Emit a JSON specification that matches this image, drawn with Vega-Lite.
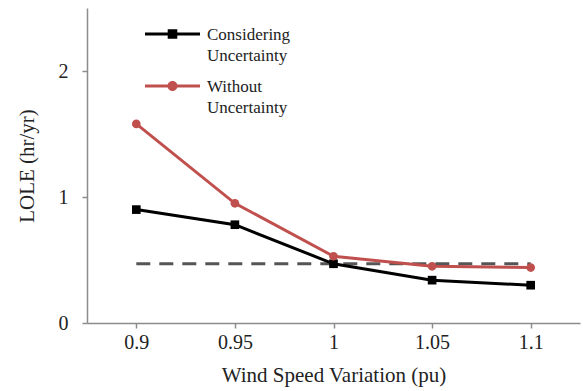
{
  "$schema": "https://vega.github.io/schema/vega-lite/v6.json",
  "width": 493,
  "height": 315,
  "autosize": "none",
  "padding": {"left": 87, "top": 8, "right": 3, "bottom": 68},
  "background": "white",
  "config": {
    "font": "Liberation Serif",
    "view": {"stroke": null},
    "axis": {
      "grid": false,
      "domainColor": "#8c8c8c",
      "domainWidth": 1.5,
      "tickColor": "#8c8c8c",
      "tickWidth": 1.5,
      "tickSize": 5,
      "labelFont": "Liberation Serif",
      "labelFontSize": 20,
      "labelColor": "#222222",
      "titleFont": "Liberation Serif",
      "titleFontSize": 21,
      "titleFontWeight": "normal",
      "titleColor": "#222222"
    }
  },
  "layer": [
    {
      "data": {"values": [{"x": "0.9", "x2": "1.1", "y": 0.47}]},
      "mark": {"type": "rule", "strokeWidth": 3, "strokeDash": [14, 9]},
      "encoding": {
        "x": {"field": "x", "type": "ordinal"},
        "x2": {"field": "x2"},
        "y": {"field": "y", "type": "quantitative"},
        "color": {"value": "#555555"}
      }
    },
    {
      "data": {"values": [
        {"x": "0.9", "series": "Considering Uncertainty", "lole": 0.90},
        {"x": "0.95", "series": "Considering Uncertainty", "lole": 0.78},
        {"x": "1", "series": "Considering Uncertainty", "lole": 0.47},
        {"x": "1.05", "series": "Considering Uncertainty", "lole": 0.34},
        {"x": "1.1", "series": "Considering Uncertainty", "lole": 0.30},
        {"x": "0.9", "series": "Without Uncertainty", "lole": 1.58},
        {"x": "0.95", "series": "Without Uncertainty", "lole": 0.95},
        {"x": "1", "series": "Without Uncertainty", "lole": 0.53},
        {"x": "1.05", "series": "Without Uncertainty", "lole": 0.45},
        {"x": "1.1", "series": "Without Uncertainty", "lole": 0.44}
      ]},
      "layer": [
        {
          "mark": {"type": "line", "strokeWidth": 3},
          "encoding": {
            "x": {"field": "x", "type": "ordinal"},
            "y": {"field": "lole", "type": "quantitative"},
            "color": {"field": "series", "type": "nominal"}
          }
        },
        {
          "transform": [{"filter": "datum.series == 'Considering Uncertainty'"}],
          "mark": {"type": "square", "opacity": 1, "size": 75},
          "encoding": {
            "x": {"field": "x", "type": "ordinal"},
            "y": {"field": "lole", "type": "quantitative"},
            "color": {"field": "series", "type": "nominal"}
          }
        },
        {
          "transform": [{"filter": "datum.series == 'Without Uncertainty'"}],
          "mark": {"type": "circle", "opacity": 1, "size": 75},
          "encoding": {
            "x": {"field": "x", "type": "ordinal"},
            "y": {"field": "lole", "type": "quantitative"},
            "color": {"field": "series", "type": "nominal"}
          }
        }
      ]
    }
  ],
  "encoding": {
    "x": {
      "field": "x",
      "type": "ordinal",
      "scale": {"type": "point", "domain": ["0.9", "0.95", "1", "1.05", "1.1"], "padding": 0.5},
      "axis": {"title": "Wind Speed Variation (pu)", "labelAngle": 0, "labelPadding": 4, "titlePadding": 12}
    },
    "y": {
      "field": "lole",
      "type": "quantitative",
      "scale": {"domain": [0, 2.5], "nice": false},
      "axis": {"title": "LOLE (hr/yr)", "values": [0, 1, 2], "labelPadding": 14, "titlePadding": 21}
    },
    "color": {
      "field": "series",
      "type": "nominal",
      "scale": {"domain": ["Considering Uncertainty", "Without Uncertainty"], "range": ["#000000", "#c0504d"]},
      "legend": {
        "title": null,
        "orient": "none",
        "legendX": 65.5,
        "legendY": 6,
        "padding": 0,
        "symbolSize": 1600,
        "symbolStrokeWidth": 0,
        "symbolOpacity": 1,
        "labelFont": "Liberation Serif",
        "labelFontSize": 17,
        "labelColor": "#222222",
        "labelOffset": 14.5,
        "labelBaseline": "alphabetic",
        "labelExpr": "split(datum.label, ' ')",
        "rowPadding": 2,
        "encode": {
          "symbols": {"update": {"shape": {"signal": "datum.value == 'Considering Uncertainty' ? 'M-1.375,-0.075H1.375V0.075H-1.375Z M-0.24,-0.24H0.24V0.24H-0.24Z' : 'M-1.375,-0.075H1.375V0.075H-1.375Z M-0.25,0 A0.25,0.25 0 1,1 0.25,0 A0.25,0.25 0 1,1 -0.25,0Z'"}, "fill": {"scale": "color", "field": "value"}}},
          "labels": {"update": {"lineHeight": {"value": 20.5}, "dy": {"value": 6}}}
        }
      }
    }
  }
}
